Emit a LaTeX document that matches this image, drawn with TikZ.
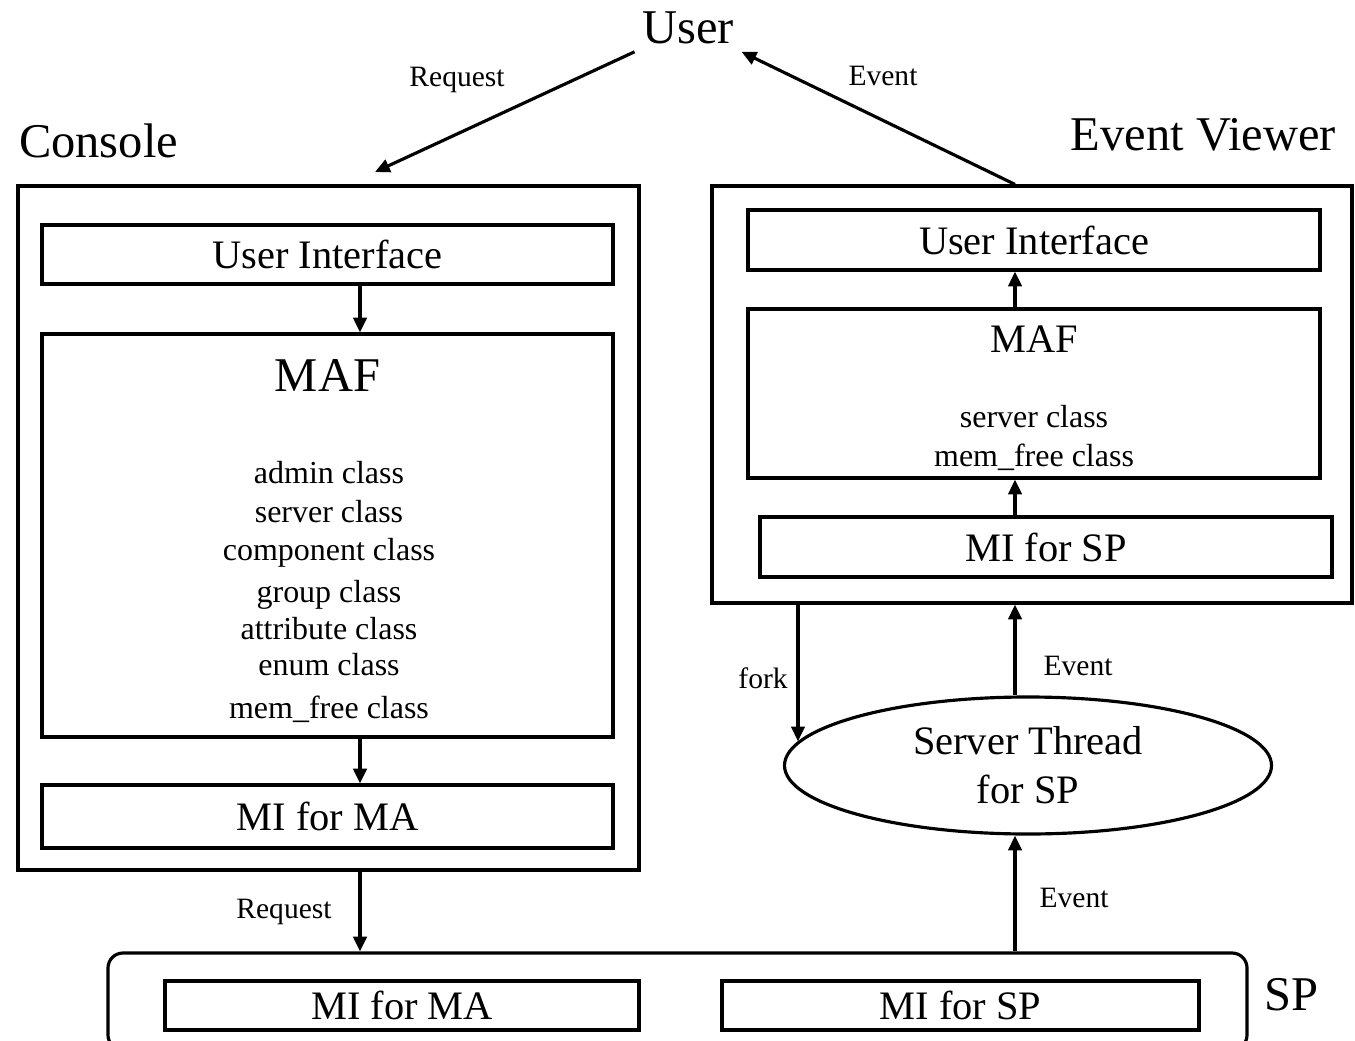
\documentclass[tikz,border=0pt]{standalone}
\usepackage{fontspec}
\setmainfont{Liberation Serif}
\usepackage{xcolor}
\usepackage{tikz}
\usetikzlibrary{positioning, shapes, arrows.meta, calc}

\begin{document}
\begin{tikzpicture}[
	box/.style={draw, line width=0.9pt, inner sep=0pt, font=\fontsize{11.5}{14}\selectfont},
	arr/.style={line width=0.9pt, -{Triangle[length=4.2pt,width=3.8pt]}},
	big/.style={inner sep=0pt, font=\fontsize{13.8}{16}\selectfont},
	mid/.style={inner sep=0pt, font=\fontsize{11.5}{14}\selectfont},
	cls/.style={inner sep=0pt, anchor=base, font=\fontsize{9.1}{11}\selectfont},
	lbl/.style={inner sep=0pt, font=\fontsize{8.4}{10}\selectfont}]
	\useasboundingbox (0,0) rectangle (13.55,-10.40);
	\node[big, inner sep=2pt] (user) at (6.88,-0.28) {User};
	\coordinate (reqEnd) at (3.75,-1.72);
	\coordinate (colA) at (3.60,0);
	\coordinate (colE) at (10.15,0);
	
	\node[box, minimum width=6.21cm, minimum height=6.84cm] (console) at (3.285,-5.28) {};
	\node[box, minimum width=5.71cm, minimum height=0.59cm] (consoleUI) at (3.275,-2.545) {User Interface};
	\node[box, minimum width=5.71cm, minimum height=4.03cm] (consoleMAF) at (3.275,-5.355) {};
	\node[box, minimum width=5.71cm, minimum height=0.63cm] (consoleMI) at (3.275,-8.165) {MI for MA};
	\node[big, above right=0.26cm and 0.02cm of console.north west] (consoleTitle) {Console};
	\node[big, below=0.26cm of consoleMAF.north] (consoleMAFtitle) {MAF};
	\foreach \y/\t [count=\i] in {4.83/admin class, 5.22/server class, 5.60/component class, 6.02/group class, 6.39/attribute class, 6.75/enum class, 7.18/mem\_free class}
		\node[cls] (cls\i) at (3.29,-\y) {\t};
	
	\node[box, minimum width=6.40cm, minimum height=4.17cm] (viewer) at (10.32,-3.945) {};
	\node[box, minimum width=5.72cm, minimum height=0.60cm] (viewerUI) at (10.34,-2.40) {User Interface};
	\node[box, minimum width=5.72cm, minimum height=1.69cm] (viewerMAF) at (10.34,-3.935) {};
	\node[box, minimum width=5.72cm, minimum height=0.60cm] (viewerMI) at (10.46,-5.47) {MI for SP};
	\node[big, above left=0.32cm and 0.17cm of viewer.north east] (viewerTitle) {Event Viewer};
	\node[mid, below=0.18cm of viewerMAF.north] (viewerMAFtitle) {MAF};
	\node[cls] (vcls1) at (10.34,-4.28) {server class};
	\node[cls] (vcls2) at (10.34,-4.66) {mem\_free class};
	
	\node[box, ellipse, align=center, minimum width=4.87cm, minimum height=1.37cm] (thread) at (10.28,-7.655) {Server Thread\\for SP};
	
	\node[box, rounded corners=0.15cm, minimum width=11.39cm, minimum height=0.97cm] (sp) at (6.775,-10.015) {};
	\node[box, minimum width=4.74cm, minimum height=0.49cm] (spMA) at (4.02,-10.055) {MI for MA};
	\node[box, minimum width=4.77cm, minimum height=0.49cm] (spSP) at (9.605,-10.055) {MI for SP};
	\node[big, right=0.15cm of sp.east, yshift=0.065cm] (spTitle) {SP};
	
	\draw[arr] (user.south west) -- (reqEnd);
	\draw[arr] (viewer.north -| colE) -- (user.south east);
	\draw[arr] (consoleUI.south -| colA) -- (consoleMAF.north -| colA);
	\draw[arr] (consoleMAF.south -| colA) -- (consoleMI.north -| colA);
	\draw[arr] (console.south -| colA) -- (sp.north -| colA);
	\draw[arr] (sp.north -| colE) -- (thread.south -| colE);
	\draw[arr] (thread.north -| colE) -- (viewer.south -| colE);
	\draw[arr] (viewerMI.north -| colE) -- (viewerMAF.south -| colE);
	\draw[arr] (viewerMAF.north -| colE) -- (viewerUI.south -| colE);
	\draw[arr] (viewer.south -| thread.174) -- (thread.174);
	
	\node[lbl] (reqTop) at (4.57,-0.80) {Request};
	\node[lbl] (evTop) at (8.83,-0.76) {Event};
	\node[lbl] (reqBot) at (2.84,-9.12) {Request};
	\node[lbl] (evMid) at (10.78,-6.66) {Event};
	\node[lbl] (evBot) at (10.74,-8.98) {Event};
	\node[lbl] (forkLbl) at (7.63,-6.78) {fork};
\end{tikzpicture}
\end{document}
